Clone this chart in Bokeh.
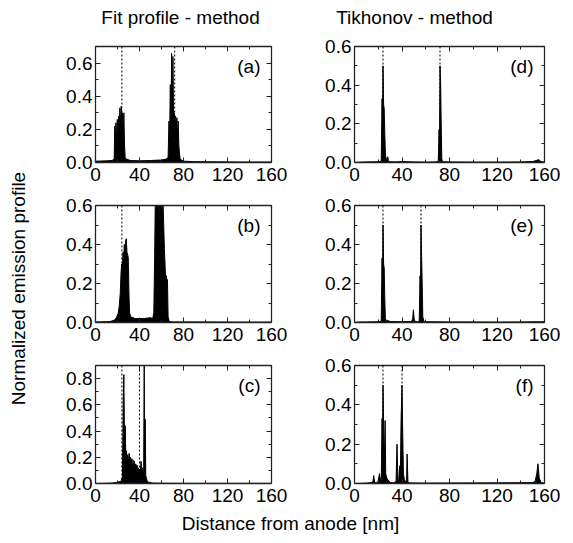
import math
from bokeh.plotting import figure
from bokeh.layouts import row, column
from bokeh.models import (LinearAxis, FixedTicker, Span, Label, Range1d, NumeralTickFormatter,
                          CustomLabelingPolicy)
from bokeh.core.properties import value
from bokeh.embed import file_html
from bokeh.resources import INLINE

FONT = "Liberation Sans"
FS = "19px"

# ---------------- data ----------------
# (a) Fit profile - method, ensemble envelope
a_x = [0, 10, 15, 17, 17.5, 18, 18.6, 19.2, 19.8, 20.4, 21, 21.6, 22.2, 22.8, 23.4, 24, 24.6, 25.2, 25.8, 26.4,
       27, 28, 32, 40, 50, 60, 64, 66, 66.8, 67.4, 68, 68.6, 69.2, 69.8, 70.4, 71, 71.6, 72.2, 72.8, 73.4,
       74, 74.6, 75.2, 75.8, 76.4, 77, 80, 90, 110, 130, 160]
a_y = [0.008, 0.01, 0.012, 0.02, 0.22, 0.1, 0.24, 0.12, 0.26, 0.15, 0.28, 0.2, 0.33, 0.22, 0.34, 0.25, 0.3, 0.18, 0.3, 0.1,
       0.03, 0.02, 0.012, 0.01, 0.012, 0.015, 0.02, 0.03, 0.25, 0.15, 0.47, 0.2, 0.66, 0.3, 0.64, 0.25, 0.3, 0.22, 0.28, 0.2,
       0.27, 0.15, 0.25, 0.1, 0.05, 0.02, 0.008, 0.005, 0.004, 0.003, 0.003]

# (b) Fit profile - method
b_x = [0, 10, 14, 17, 19, 20.5, 21.5, 22.5, 23.2, 23.8, 24.4, 25, 25.6, 26.2, 26.8, 27.4, 28, 28.6, 29.2, 29.8,
       30.4, 31, 32, 36, 44, 50,
       52, 53, 53.8, 54.5, 55.2, 56, 56.6, 57.2, 57.8, 58.4, 59, 59.6, 60.2, 60.8, 61.4, 62, 62.6, 63.2, 63.8, 64.4,
       65, 65.4, 66, 67, 70, 80, 100, 130, 160]
b_y = [0.003, 0.004, 0.006, 0.012, 0.025, 0.045, 0.08, 0.15, 0.25, 0.3, 0.28, 0.36, 0.33, 0.4, 0.37, 0.42, 0.43, 0.36, 0.35, 0.33,
       0.15, 0.05, 0.03, 0.02, 0.02, 0.025,
       0.02, 0.05, 0.35, 0.7, 0.62, 0.7, 0.62, 0.7, 0.5, 0.7, 0.65, 0.7, 0.6, 0.7, 0.62, 0.5, 0.38, 0.3, 0.22, 0.24,
       0.2, 0.22, 0.03, 0.005, 0.003, 0.003, 0.003, 0.002, 0.002]

# (c) Fit profile - method
c_x = [0, 15, 20, 22, 23.5, 24.5, 25.2, 25.8, 26.4, 27, 27.6, 28.2, 28.8, 29.4, 30, 30.6, 31.2, 31.8, 32.4, 33,
       33.6, 34.2, 34.8, 35.4, 36, 36.6, 37.2, 37.8, 38.4, 39, 39.6, 40.2, 40.8, 41.4, 42, 42.6, 43.2, 43.8, 44.3, 44.7,
       45.2, 45.7, 46.3, 47, 48, 52, 60, 80, 120, 160]
c_y = [0.0, 0.003, 0.01, 0.015, 0.02, 0.05, 0.65, 0.83, 0.3, 0.44, 0.2, 0.25, 0.12, 0.22, 0.15, 0.23, 0.12, 0.2, 0.14, 0.19,
       0.1, 0.18, 0.12, 0.17, 0.1, 0.15, 0.12, 0.14, 0.1, 0.12, 0.08, 0.11, 0.1, 0.17, 0.1, 0.12, 0.09, 0.1, 1.0, 0.1,
       0.49, 0.06, 0.04, 0.02, 0.01, 0.003, 0.002, 0.001, 0.001, 0.001]

# (d) Tikhonov - method
d_x = [0, 5, 10, 20, 22.5, 23.2, 23.6, 24, 24.5, 25, 25.5, 26, 26.5, 27, 28, 28.5, 29, 30, 35, 40,
       50, 60, 68, 70.5, 71.2, 71.6, 72, 72.5, 73, 73.5, 74, 75, 80, 100, 120, 140, 150, 153, 155, 157, 160]
d_y = [0.0, 0.002, 0.003, 0.004, 0.006, 0.33, 0.2, 0.5, 0.3, 0.28, 0.15, 0.05, 0.01, 0.02, 0.03, 0.01, 0.005, 0.004, 0.003, 0.005,
       0.003, 0.002, 0.003, 0.005, 0.17, 0.1, 0.5, 0.42, 0.2, 0.02, 0.005, 0.004, 0.003, 0.002, 0.002, 0.003, 0.005, 0.01, 0.015, 0.005, 0.002]

# (e) Tikhonov - method
e_x = [0, 5, 10, 20, 22.5, 23.2, 23.6, 24, 24.5, 25, 25.5, 26, 27, 28, 30, 40, 48, 49, 49.6, 50.2,
       51, 53, 54.5, 55.2, 55.6, 56, 56.5, 57, 57.5, 58.5, 60, 80, 100, 120, 140, 160]
e_y = [0.0, 0.003, 0.003, 0.004, 0.006, 0.33, 0.2, 0.5, 0.3, 0.28, 0.12, 0.02, 0.008, 0.01, 0.005, 0.004, 0.005, 0.02, 0.065, 0.02,
       0.005, 0.004, 0.006, 0.24, 0.15, 0.5, 0.34, 0.2, 0.03, 0.005, 0.004, 0.003, 0.003, 0.002, 0.003, 0.004]

# (f) Tikhonov - method
f_x = [0, 10, 14, 15.5, 16.2, 17, 19, 20, 21, 22, 22.5, 23.2, 23.6, 24, 24.6, 25.2, 25.8, 26.3, 27, 28,
       30, 33, 35, 35.8, 36.5, 37.2, 38, 38.6, 39.2, 40, 40.6, 41.2, 42, 43, 43.8, 44.3, 45, 47, 60, 100,
       140, 150, 152, 153.5, 154.5, 155.5, 157, 160]
f_y = [0.0, 0.002, 0.004, 0.01, 0.04, 0.005, 0.003, 0.015, 0.05, 0.01, 0.006, 0.33, 0.2, 0.5, 0.28, 0.1, 0.32, 0.05, 0.03, 0.02,
       0.005, 0.004, 0.01, 0.2, 0.02, 0.01, 0.09, 0.02, 0.32, 0.5, 0.26, 0.05, 0.02, 0.01, 0.005, 0.15, 0.005, 0.003, 0.002, 0.003,
       0.004, 0.005, 0.01, 0.05, 0.1, 0.03, 0.005, 0.002]

# vertical dotted marker positions per row
row_marks = [[24, 72], [24, 56], [24, 40]]
# y-axis maxima per panel
ymax_left = [0.7, 0.6, 0.9]
ymax_right = [0.6, 0.6, 0.6]
letters_left = ["(a)", "(b)", "(c)"]
letters_right = ["(d)", "(e)", "(f)"]
x_major = [0, 40, 80, 120, 160]
x_minor = [20, 60, 100, 140]
col_titles = ["Fit profile - method", "Tikhonov - method"]
x_label = "Distance from anode [nm]"
y_label = "Normalized emission profile"

for xs, ys in [(a_x, a_y), (b_x, b_y), (c_x, c_y), (d_x, d_y), (e_x, e_y), (f_x, f_y)]:
    assert len(xs) == len(ys), (len(xs), len(ys))

NO_LABELS = """
const all = [...indices]
for (const i of all) indices.unset(i)
return indices
"""


def style_axis(ax, show_labels, standoff):
    ax.major_tick_in = 5
    ax.major_tick_out = 0
    ax.minor_tick_in = 3
    ax.minor_tick_out = 0
    ax.axis_line_width = 1.3
    ax.axis_line_color = "#222222"
    ax.major_tick_line_color = "#222222"
    ax.minor_tick_line_color = "#222222"
    ax.major_label_text_font = FONT
    ax.major_label_text_color = "black"
    ax.major_label_text_font_size = FS
    if show_labels:
        ax.major_label_standoff = standoff
    else:
        ax.major_label_standoff = 0
        ax.major_label_policy = CustomLabelingPolicy(code=NO_LABELS)


def panel(xs, ys, ymax, marks, letter, width, height, left, right, top, bottom):
    p = figure(width=width, height=height, x_range=Range1d(0, 160), y_range=Range1d(0, ymax),
               output_backend="svg", toolbar_location=None, x_axis_type=None, y_axis_type=None,
               min_border_left=left, min_border_right=right, min_border_top=top, min_border_bottom=bottom)
    p.outline_line_color = None
    p.background_fill_color = "white"
    p.border_fill_color = "white"

    ymaj = [round(0.2 * i, 1) for i in range(int(ymax / 0.2 + 1e-9) + 1)]
    ymin = [round(0.1 * i, 1) for i in range(1, int(ymax / 0.1 + 1e-9) + 1) if i % 2 == 1]

    for side, show in [("below", True), ("above", False)]:
        ax = LinearAxis(ticker=FixedTicker(ticks=x_major, minor_ticks=x_minor))
        style_axis(ax, show, 5)
        p.add_layout(ax, side)
    for side, show in [("left", True), ("right", False)]:
        ax = LinearAxis(ticker=FixedTicker(ticks=ymaj, minor_ticks=ymin),
                        formatter=NumeralTickFormatter(format="0.0"))
        style_axis(ax, show, 3)
        p.add_layout(ax, side)

    p.varea(x=xs, y1=[0] * len(xs), y2=ys, fill_color="black")
    p.line(x=xs, y=ys, line_color="black", line_width=1)

    for m in marks:
        p.add_layout(Span(location=m, dimension="height", line_color="black",
                          line_width=1, line_dash="2 2"))

    p.add_layout(Label(x=160, y=ymax, x_offset=-11, y_offset=-9, text=letter,
                       text_align="right", text_baseline="top",
                       text_font=FONT, text_font_size="19px", text_color="black"))
    return p


def text_fig(width, height):
    p = figure(width=width, height=height, x_range=Range1d(0, width), y_range=Range1d(0, height),
               output_backend="svg", toolbar_location=None, x_axis_type=None, y_axis_type=None,
               min_border=0)
    p.outline_line_color = None
    p.grid.visible = False
    return p


left_data = [(a_x, a_y), (b_x, b_y), (c_x, c_y)]
right_data = [(d_x, d_y), (e_x, e_y), (f_x, f_y)]
row_geom = [  # height, top border, bottom border
    (155, 14, 23),
    (160, 20, 23),
    (160, 20, 22),
]

rows = []
for i in range(3):
    h, t, b = row_geom[i]
    pl = panel(left_data[i][0], left_data[i][1], ymax_left[i], row_marks[i], letters_left[i],
               260, h, 55, 4, t, b)
    pr = panel(right_data[i][0], right_data[i][1], ymax_right[i], row_marks[i], letters_right[i],
               273, h, 54, 18, t, b)
    rows.append(row(pl, pr, spacing=0))

title_fig = text_fig(533, 30)
title_fig.text(x=[140, 374], y=[13, 13], text=col_titles, text_font=value(FONT),
               text_font_size=value("19px"), text_align="center", text_baseline="middle",
               text_color="black")

xlab_fig = text_fig(533, 38)
xlab_fig.text(x=[250], y=[20], text=[x_label], text_font=value(FONT),
              text_font_size=value("19px"), text_align="center", text_baseline="middle",
              text_color="black")

ylab_fig = text_fig(40, 543)
ylab_fig.text(x=[18], y=[255], text=[y_label], angle=math.pi / 2, text_font=value(FONT),
              text_font_size=value("19px"), text_align="center", text_baseline="middle",
              text_color="black")

layout = row(ylab_fig, column(title_fig, rows[0], rows[1], rows[2], xlab_fig, spacing=0), spacing=0)

open("out.html", "w").write(file_html(layout, INLINE))
